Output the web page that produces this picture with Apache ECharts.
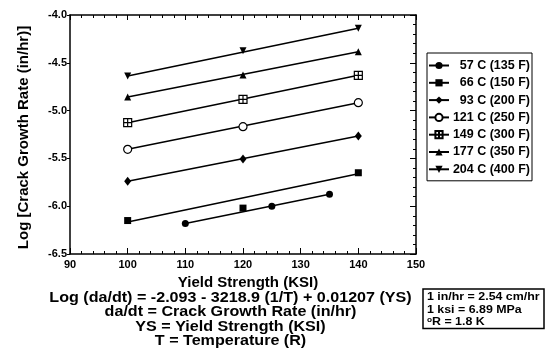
<!DOCTYPE html>
<html><head><meta charset="utf-8">
<script src="https://cdn.jsdelivr.net/npm/echarts@6/dist/echarts.min.js"></script>
<style>html,body{margin:0;padding:0;background:#fff}#c{width:545px;height:360px}</style>
</head><body><div id="c"></div>
<script>
const FONT = 'Liberation Sans, Arial, Helvetica, sans-serif';
const temps = ['57 C (135 F)', '66 C (150 F)', '93 C (200 F)', '121 C (250 F)', '149 C (300 F)', '177 C (350 F)', '204 C (400 F)'];
// fitted lines: [x, logRate] endpoints
const fit57 = [[110, -6.18], [135, -5.875]];
const fit66 = [[100, -6.165], [140, -5.66]];
const fit93 = [[100, -5.74], [140, -5.266]];
const fit121 = [[100, -5.405], [140, -4.917]];
const fit149 = [[100, -5.126], [140, -4.631]];
const fit177 = [[100, -4.858], [140, -4.384]];
const fit204 = [[100, -4.638], [140, -4.139]];
// measured data points
const pts57 = [[110, -6.18], [125, -6.0], [135, -5.875]];
const pts66 = [[100, -6.15], [120, -6.02], [140, -5.65]];
const pts93 = [[100, -5.74], [120, -5.506], [140, -5.266]];
const pts121 = [[100, -5.405], [120, -5.168], [140, -4.917]];
const pts149 = [[100, -5.126], [120, -4.882], [140, -4.631]];
const pts177 = [[100, -4.858], [120, -4.628], [140, -4.384]];
const pts204 = [[100, -4.638], [120, -4.373], [140, -4.139]];
const xTicks = [90, 100, 110, 120, 130, 140, 150];
const yTicks = [-6.5, -6.0, -5.5, -5.0, -4.5, -4.0];
const notes = ['Log (da/dt) = -2.093 - 3218.9 (1/T) + 0.01207 (YS)', 'da/dt = Crack Growth Rate (in/hr)', 'YS = Yield Strength (KSI)', 'T = Temperature (R)'];
const units = ['1 in/hr = 2.54 cm/hr', '1 ksi = 6.89 MPa', '{sup|o}R = 1.8 K'];

const fits = [fit57, fit66, fit93, fit121, fit149, fit177, fit204];
const pts = [pts57, pts66, pts93, pts121, pts149, pts177, pts204];
const symbols = [
  {s: 'circle', fill: '#000', size: 7},
  {s: 'rect', fill: '#000', size: 7},
  {s: 'diamond', fill: '#000', size: [7, 9]},
  {s: 'circle', fill: '#fff', size: 8},
  {s: 'path://M0,0L10,0L10,10L0,10Z M5,0L5,10 M0,5L10,5', fill: '#fff', size: 8},
  {s: 'triangle', fill: '#000', size: 7},
  {s: 'path://M0,0L10,0L5,9Z', fill: '#000', size: 7}
];

const series = [];
temps.forEach((t, i) => {
  const sy = symbols[i];
  series.push({
    type: 'line', name: t, data: fits[i], showSymbol: false, symbol: sy.s,
    symbolSize: sy.size, silent: true,
    lineStyle: {color: '#000', width: 1.5},
    itemStyle: {color: sy.fill, borderColor: '#000', borderWidth: sy.fill === '#fff' ? 1.2 : 0},
    z: 2
  });
  series.push({
    type: 'scatter', name: t, data: pts[i], symbol: sy.s, symbolSize: sy.size,
    itemStyle: {color: sy.fill, borderColor: '#000', borderWidth: sy.fill === '#fff' ? 1.2 : 0, opacity: 1},
    z: 3
  });
});

const axisLine = {show: true, lineStyle: {color: '#000', width: 1.5}};
const lbl = {color: '#000', fontFamily: FONT, fontWeight: 'bold', fontSize: 11};

const chart = echarts.init(document.getElementById('c'), null, {renderer: 'canvas'});
chart.setOption({
  animation: false,
  backgroundColor: '#fff',
  grid: {left: 70, right: 129, top: 15, bottom: 106},
  xAxis: [
    {type: 'value', min: xTicks[0], max: xTicks[xTicks.length - 1], interval: 10, position: 'bottom',
     axisLine, axisTick: {inside: true, length: 6, lineStyle: {color: '#000'}},
     minorTick: {show: true, splitNumber: 5, length: 3, lineStyle: {color: '#000'}},
     splitLine: {show: false},
     axisLabel: Object.assign({margin: 5}, lbl),
     name: 'Yield Strength (KSI)', nameLocation: 'middle', nameGap: 21,
     nameTextStyle: {color: '#000', fontFamily: FONT, fontWeight: 'bold', fontSize: 15, padding: [0, 0, 0, 10]}},
    {type: 'value', min: 90, max: 150, interval: 10, position: 'top',
     axisLine, axisTick: {inside: true, length: 5, lineStyle: {color: '#000'}},
     minorTick: {show: true, splitNumber: 5, length: 3, lineStyle: {color: '#000'}},
     splitLine: {show: false}, axisLabel: {show: false}}
  ],
  yAxis: [
    {type: 'value', min: yTicks[0], max: yTicks[yTicks.length - 1], interval: 0.5, position: 'left',
     axisLine, axisTick: {inside: false, length: 3, lineStyle: {color: '#000'}},
     splitLine: {show: false},
     axisLabel: Object.assign({margin: 3, formatter: v => v.toFixed(1)}, lbl),
     name: 'Log [Crack Growth Rate (in/hr)]', nameLocation: 'middle', nameGap: 39,
     nameTextStyle: {color: '#000', fontFamily: FONT, fontWeight: 'bold', fontSize: 15, padding: [0, 6, 0, 0]}},
    {type: 'value', min: -6.5, max: -4.0, interval: 0.5, position: 'right',
     axisLine, axisTick: {inside: true, length: 6, lineStyle: {color: '#000'}},
     minorTick: {show: true, splitNumber: 5, length: 3, lineStyle: {color: '#000'}},
     splitLine: {show: false}, axisLabel: {show: false}}
  ],
  legend: {
    data: temps, orient: 'vertical', left: 427, top: 53,
    backgroundColor: '#fff', borderColor: '#000', borderWidth: 1, borderRadius: 0,
    padding: [6, 2, 5, 1], itemGap: 4.3, itemWidth: 20, itemHeight: 9,
    selectedMode: false,
    textStyle: {color: '#000', fontFamily: FONT, fontWeight: 'bold', fontSize: 12.5, lineHeight: 12,
      rich: {r: {width: 76, align: 'right', fontFamily: FONT, fontWeight: 'bold', fontSize: 12.5, color: '#000', lineHeight: 12}}},
    formatter: n => '{r|' + n + '}'
  },
  graphic: [
    ...notes.map((t, i) => ({
      type: 'text', x: 230.5, y: 291 + i * 14.4, scaleX: 1.15,
      style: {text: t, fill: '#000', font: 'bold 14px ' + FONT, textAlign: 'center'}
    })),
    {type: 'rect', shape: {x: 423, y: 289, width: 121, height: 39.5},
     style: {fill: '#fff', stroke: '#000', lineWidth: 1.5}},
    ...units.map((t, i) => ({
      type: 'text', x: 427, y: 297 + i * 12.7, scaleX: 1.18,
      style: {text: t, fill: '#000', font: 'bold 10.5px ' + FONT, verticalAlign: 'middle',
        rich: {sup: {fontSize: 7, fontWeight: 'bold', fontFamily: FONT, padding: [0, 0, 5, 0]}}}
    }))
  ],
  series
});
</script></body></html>
